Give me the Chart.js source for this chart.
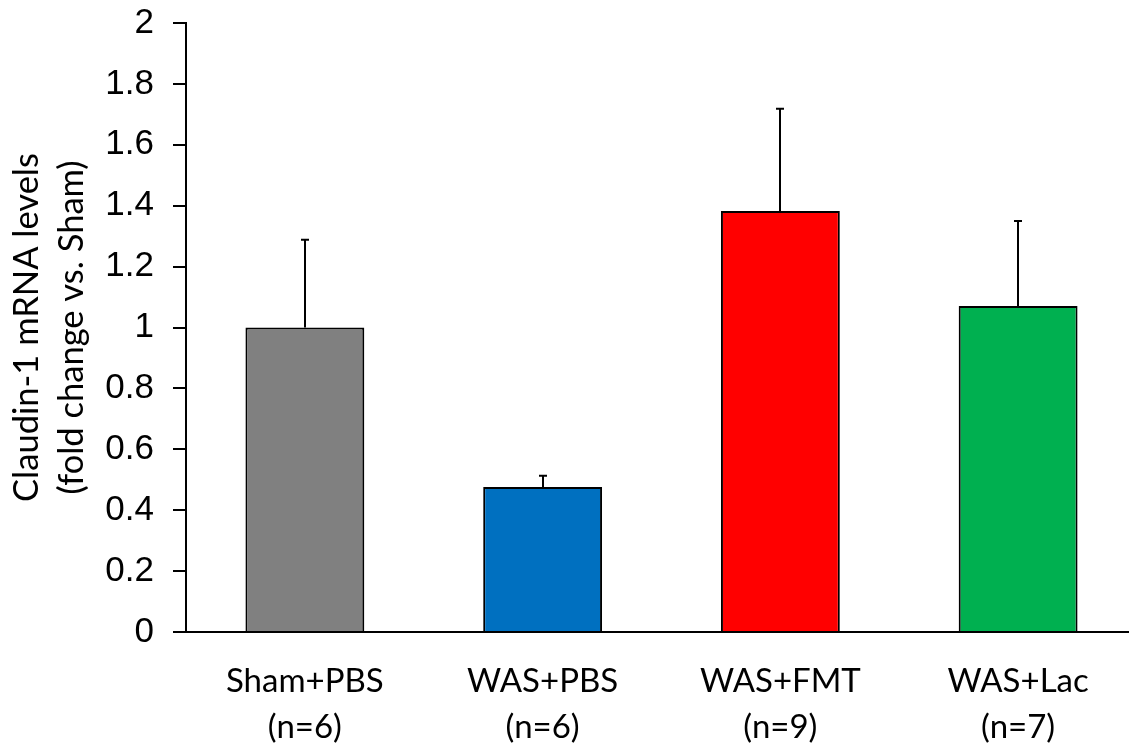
<!DOCTYPE html>
<html>
<head>
<meta charset="utf-8">
<script src="https://cdn.jsdelivr.net/npm/chart.js@4/dist/chart.umd.min.js"></script>
<style>
  html, body { margin: 0; padding: 0; background: #fff; overflow: hidden; }
  #wrap { width: 1137px; height: 749px; position: relative; }
</style>
</head>
<body>
<div id="wrap"><canvas id="c"></canvas></div>
<script>
const categories = [['Sham+PBS', '(n=6)'], ['WAS+PBS', '(n=6)'], ['WAS+FMT', '(n=9)'], ['WAS+Lac', '(n=7)']];
const values = [1.0, 0.476, 1.383, 1.071];
const errors = [0.288, 0.037, 0.335, 0.279];
const barColors = ['#808080', '#0070C0', '#FF0000', '#00B050'];
const yTitle = ['Claudin-1 mRNA levels', '(fold change vs. Sham)'];
const yMin = 0, yMax = 2, yStep = 0.2;

const errorBars = {
  id: 'errorBars',
  afterDatasetsDraw(chart) {
    const meta = chart.getDatasetMeta(0);
    const y = chart.scales.y;
    const ctx = chart.ctx;
    ctx.save();
    ctx.strokeStyle = '#000';
    ctx.lineWidth = 2;
    meta.data.forEach((bar, i) => {
      const base = y.getPixelForValue(values[i]);
      const top = y.getPixelForValue(values[i] + errors[i]);
      const x = Math.round(bar.x);
      ctx.beginPath();
      ctx.moveTo(x, base);
      ctx.lineTo(x, top);
      ctx.moveTo(x - 4, top);
      ctx.lineTo(x + 4, top);
      ctx.stroke();
    });
    ctx.restore();
  }
};

new Chart(document.getElementById('c'), {
  type: 'bar',
  data: {
    labels: categories,
    datasets: [{
      data: values,
      backgroundColor: barColors,
      borderColor: '#000',
      borderWidth: 2,
      barPercentage: 0.5,
      categoryPercentage: 1.0
    }]
  },
  options: {
    responsive: true,
    maintainAspectRatio: false,
    animation: false,
    devicePixelRatio: 1,
    layout: { padding: { top: 23, left: 0, right: 0, bottom: 0 } },
    plugins: { legend: { display: false }, tooltip: { enabled: false } },
    scales: {
      x: {
        grid: { display: false, drawTicks: false },
        border: { display: true, color: '#000', width: 2 },
        ticks: {
          color: '#000',
          font: { family: 'Lato', size: 33, lineHeight: '46px' },
          padding: 26,
          maxRotation: 0,
          autoSkip: false
        },
        afterFit(scale) { scale.height = 117; }
      },
      y: {
        min: yMin,
        max: yMax,
        grid: { display: true, drawOnChartArea: false, drawTicks: true, tickLength: 13, color: '#000', lineWidth: 2 },
        border: { display: true, color: '#000', width: 2 },
        ticks: {
          stepSize: yStep,
          color: '#000',
          font: { family: 'Liberation Sans', size: 35, lineHeight: '6px' },
          padding: 19,
          callback: (v) => String(Math.round(v * 10) / 10)
        },
        title: {
          display: true,
          text: yTitle,
          color: '#000',
          font: { family: 'Lato', size: 34.5, lineHeight: '45px' },
          padding: { top: 4, bottom: 0 }
        },
        afterFit(scale) { scale.width = 186; }
      }
    }
  },
  plugins: [errorBars]
});
</script>
</body>
</html>
